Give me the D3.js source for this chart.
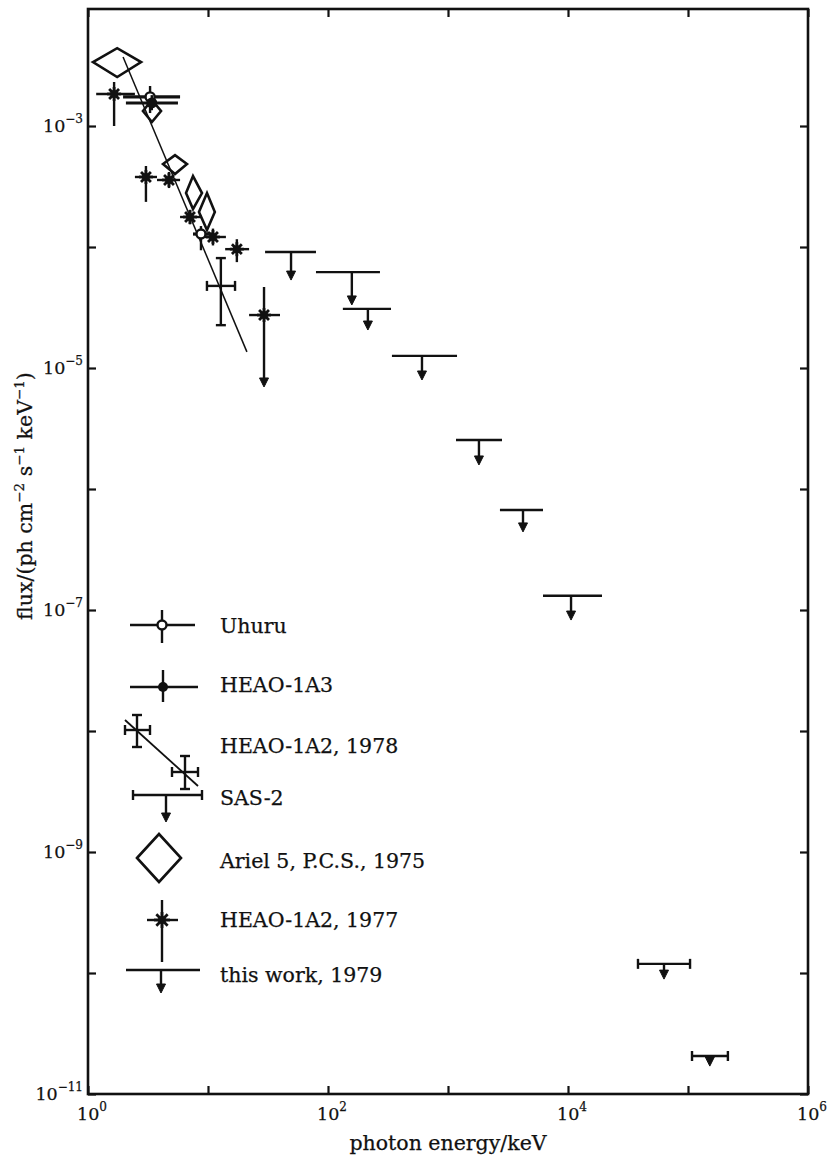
<!DOCTYPE html>
<html>
<head>
<meta charset="utf-8">
<script src="https://cdn.jsdelivr.net/npm/d3@7"></script>
<style>
  body { margin: 0; background: #fff; }
  text { font-family: "DejaVu Serif", serif; fill: #111; stroke: #111; stroke-width: 0.25px; }
</style>
</head>
<body>
<div id="chart"></div>
<script>
// axis decades
var xDecades = [1, 10, 100, 1e3, 1e4, 1e5, 1e6];
var xLabels  = [[1, "0"], [100, "2"], [1e4, "4"], [1e6, "6"]];
var yDecades = [1e-11, 1e-10, 1e-9, 1e-8, 1e-7, 1e-6, 1e-5, 1e-4, 1e-3];
var yLabels  = [[1e-3, "\u22123"], [1e-5, "\u22125"], [1e-7, "\u22127"], [1e-9, "\u22129"], [1e-11, "\u221211"]];

// Uhuru (open circle)
var uhuruE   = [3.29, 8.74];
var uhuruElo = [1.96, 7.5];
var uhuruEhi = [5.85, 10.8];
var uhuruF   = [1.74e-3, 1.28e-4];
var uhuruFlo = [1.28e-3, 9.4e-5];
var uhuruFhi = [2.14e-3, 1.49e-4];

// HEAO-1A3 (filled circle)
var a3E   = [3.4];
var a3Elo = [2.07];
var a3Ehi = [5.62];
var a3F   = [1.55e-3];
var a3Flo = [1.35e-3];
var a3Fhi = [1.8e-3];

// HEAO-1A2, 1978 (capped cross + power law)
var a78E   = [12.8];
var a78Elo = [9.8];
var a78Ehi = [16.8];
var a78F   = [4.77e-5];
var a78Flo = [2.26e-5];
var a78Fhi = [8.1e-5];
var fitE = [1.96, 21.1];
var fitF = [3.72e-3, 1.36e-5];

// Ariel 5, P.C.S., 1975 (diamonds)
var arielE   = [1.75, 3.41, 5.31, 7.5, 9.81];
var arielElo = [1.10, 2.87, 4.22, 6.56, 8.41];
var arielEhi = [2.77, 4.06, 6.68, 8.91, 11.4];
var arielF   = [3.38e-3, 1.33e-3, 4.85e-4, 2.79e-4, 1.95e-4];
var arielFlo = [2.54e-3, 1.08e-3, 4.01e-4, 2.06e-4, 1.38e-4];
var arielFhi = [4.4e-3, 1.64e-3, 5.75e-4, 3.86e-4, 2.79e-4];

// HEAO-1A2, 1977 (asterisks)
var a77E     = [1.65, 3.04, 4.73, 7.08, 11.0, 17.4, 29.3];
var a77Elo   = [1.17, 2.46, 3.76, 5.85, 9.44, 13.9, 22.0];
var a77Ehi   = [2.46, 3.76, 5.85, 8.91, 14.1, 22.0, 39.8];
var a77F     = [1.84e-3, 3.79e-4, 3.58e-4, 1.77e-4, 1.21e-4, 9.6e-5, 2.74e-5];
var a77Flo   = [1.0e-3, 2.36e-4, 3.07e-4, 1.54e-4, 1.03e-4, 7.5e-5, 6.97e-6];
var a77Fhi   = [2.31e-3, 4.67e-4, 4.17e-4, 2.03e-4, 1.42e-4, 1.16e-4, 4.67e-5];
var a77Limit = [false, false, false, false, false, false, true];

// SAS-2 (capped upper limits)
var sasElo   = [38300, 108000];
var sasEhi   = [104000, 215000];
var sasEarr  = [63100, 152000];
var sasF     = [1.19e-10, 2.06e-11];
var sasTip   = [8.9e-11, 1.7e-11];

// this work, 1979 (upper limits)
var workElo  = [29.9, 79.4, 133, 341, 1166, 2710, 6190];
var workEhi  = [79.4, 271, 335, 1189, 2818, 6190, 19200];
var workEarr = [49.2, 158, 215, 607, 1811, 4217, 10600];
var workF    = [9.1e-5, 6.2e-5, 3.08e-5, 1.26e-5, 2.54e-6, 6.7e-7, 1.31e-7];
var workTip  = [5.33e-5, 3.32e-5, 2.06e-5, 7.96e-6, 1.58e-6, 4.42e-7, 8.26e-8];

var legendNames = ["Uhuru", "HEAO-1A3", "HEAO-1A2, 1978", "SAS-2", "Ariel 5, P.C.S., 1975", "HEAO-1A2, 1977", "this work, 1979"];

// Style setting
var width = 829, height = 1162;
var ink = "#111";
var bar_w = 2.4;
var cap = 5;
var fs = 20.5;

var svg = d3.select("#chart").append("svg")
    .attr("width", width)
    .attr("height", height);

var x = d3.scaleLog().domain([1, 1e6]).range([88, 808]);
var y = d3.scaleLog().domain([1e-11, Math.pow(10, -2.033)]).range([1094, 9]);

// ticks on all four sides, pointing inward
function tickStyle(g) {
  g.select(".domain").remove();
  g.selectAll(".tick line").attr("stroke", ink).attr("stroke-width", 2.2);
}
svg.append("g").attr("transform", "translate(0,1094)")
   .call(d3.axisBottom(x).tickValues(xDecades).tickSize(-8).tickFormat("")).call(tickStyle);
svg.append("g").attr("transform", "translate(0,9)")
   .call(d3.axisTop(x).tickValues(xDecades).tickSize(-8).tickFormat("")).call(tickStyle);
svg.append("g").attr("transform", "translate(88,0)")
   .call(d3.axisLeft(y).tickValues(yDecades).tickSize(-8).tickFormat("")).call(tickStyle);
svg.append("g").attr("transform", "translate(808,0)")
   .call(d3.axisRight(y).tickValues(yDecades).tickSize(-8).tickFormat("")).call(tickStyle);

svg.append("rect")
   .attr("x", 88).attr("y", 9).attr("width", 720).attr("height", 1085)
   .attr("fill", "none").attr("stroke", ink).attr("stroke-width", 2.6);

// tick labels with superscripts
function powLabel(sel, exp) {
  sel.append("tspan").text("10");
  sel.append("tspan").attr("dy", -9).attr("font-size", 12).text(exp);
}
xLabels.forEach(function(d) {
  svg.append("text")
     .attr("x", x(d[0]) - 11).attr("y", 1120)
     .attr("font-size", 17.5)
     .call(powLabel, d[1]);
});
yLabels.forEach(function(d) {
  svg.append("text")
     .attr("x", 83).attr("y", y(d[0]) + 6)
     .attr("text-anchor", "end")
     .attr("font-size", 17.5)
     .call(powLabel, d[1]);
});

// axis titles
svg.append("text")
   .attr("x", 448).attr("y", 1150)
   .attr("text-anchor", "middle")
   .attr("font-size", fs)
   .text("photon energy/keV");

var yt = svg.append("text")
   .attr("transform", "translate(32,496) rotate(-90)")
   .attr("text-anchor", "middle")
   .attr("font-size", fs);
[["flux/(ph cm", 0], ["\u22122", 1], [" s", 0], ["\u22121", 1], [" keV", 0], ["\u22121", 1], [")", 0]].forEach(function(p, i, arr) {
  var t = yt.append("tspan").text(p[0]);
  if (p[1]) t.attr("dy", -8).attr("font-size", 13.5);
  else if (i > 0 && arr[i - 1][1]) t.attr("dy", 8);
});

var plot = svg.append("g").attr("stroke", ink).attr("stroke-linecap", "butt");

function hline(g, x1, x2, yy, w) {
  g.append("line").attr("x1", x1).attr("x2", x2).attr("y1", yy).attr("y2", yy).attr("stroke-width", w || bar_w);
}
function vline(g, xx, y1, y2, w) {
  g.append("line").attr("x1", xx).attr("x2", xx).attr("y1", y1).attr("y2", y2).attr("stroke-width", w || bar_w);
}
function arrowHead(g, xx, tip) {
  g.append("path")
   .attr("d", "M" + (xx - 4.5) + "," + (tip - 9) + "L" + (xx + 4.5) + "," + (tip - 9) + "L" + xx + "," + tip + "Z")
   .attr("fill", ink).attr("stroke-width", 1);
}
function asterisk(g, cx, cy, r) {
  [45, 135, 90, 0].forEach(function(a) {
    var dx = r * Math.cos(a * Math.PI / 180), dy = r * Math.sin(a * Math.PI / 180);
    g.append("line").attr("x1", cx - dx).attr("x2", cx + dx).attr("y1", cy - dy).attr("y2", cy + dy).attr("stroke-width", 2.8);
  });
  g.append("circle").attr("cx", cx).attr("cy", cy).attr("r", 4).attr("fill", ink).attr("stroke", "none");
}
function diamond(g, cx, cy, hw, hh) {
  g.append("path")
   .attr("d", "M" + (cx - hw) + "," + cy + "L" + cx + "," + (cy - hh) + "L" + (cx + hw) + "," + cy + "L" + cx + "," + (cy + hh) + "Z")
   .attr("fill", "none").attr("stroke-width", 2.6).attr("stroke-linejoin", "miter");
}
function capCross(g, cx, cy, x1, x2, y1, y2) {
  hline(g, x1, x2, cy);
  vline(g, cx, y1, y2);
  vline(g, x1, cy - cap, cy + cap);
  vline(g, x2, cy - cap, cy + cap);
  hline(g, cx - cap, cx + cap, y1);
  hline(g, cx - cap, cx + cap, y2);
}

// power law fit, HEAO-1A2 1978
plot.append("path")
    .datum(fitE.map(function(e, i) { return [e, fitF[i]]; }))
    .attr("d", d3.line().x(function(d) { return x(d[0]); }).y(function(d) { return y(d[1]); }))
    .attr("fill", "none").attr("stroke-width", 1.5);

// Ariel 5 diamonds
arielE.forEach(function(e, i) {
  var cx = x(e), cy = y(arielF[i]);
  plot.append("path")
      .attr("d", "M" + x(arielElo[i]) + "," + cy + "L" + cx + "," + y(arielFhi[i]) +
                 "L" + x(arielEhi[i]) + "," + cy + "L" + cx + "," + y(arielFlo[i]) + "Z")
      .attr("fill", "none").attr("stroke-width", 2.6);
});

// HEAO-1A2 1977 asterisks
a77E.forEach(function(e, i) {
  var cx = x(e), cy = y(a77F[i]);
  hline(plot, x(a77Elo[i]), x(a77Ehi[i]), cy);
  vline(plot, cx, y(a77Fhi[i]), y(a77Flo[i]) - (a77Limit[i] ? 2 : 0));
  if (a77Limit[i]) arrowHead(plot, cx, y(a77Flo[i]));
  asterisk(plot, cx, cy, 7);
});

// Uhuru
uhuruE.forEach(function(e, i) {
  var cx = x(e), cy = y(uhuruF[i]);
  hline(plot, x(uhuruElo[i]), x(uhuruEhi[i]), cy, 3.2);
  vline(plot, cx, y(uhuruFhi[i]), y(uhuruFlo[i]));
  plot.append("circle").attr("cx", cx).attr("cy", cy).attr("r", 4.5).attr("fill", "#fff").attr("stroke-width", 2.4);
});

// HEAO-1A3
a3E.forEach(function(e, i) {
  var cx = x(e), cy = y(a3F[i]);
  hline(plot, x(a3Elo[i]), x(a3Ehi[i]), cy, 3.2);
  vline(plot, cx, y(a3Fhi[i]), y(a3Flo[i]));
  plot.append("circle").attr("cx", cx).attr("cy", cy).attr("r", 5.5).attr("fill", ink).attr("stroke", "none");
});

// HEAO-1A2 1978 capped crosses
a78E.forEach(function(e, i) {
  capCross(plot, x(e), y(a78F[i]), x(a78Elo[i]), x(a78Ehi[i]), y(a78Fhi[i]), y(a78Flo[i]));
});

// this work upper limits
workF.forEach(function(f, i) {
  var yy = y(f);
  hline(plot, x(workElo[i]), x(workEhi[i]), yy);
  vline(plot, x(workEarr[i]), yy, y(workTip[i]) - 4);
  arrowHead(plot, x(workEarr[i]), y(workTip[i]));
});

// SAS-2 upper limits
sasF.forEach(function(f, i) {
  var yy = y(f);
  hline(plot, x(sasElo[i]), x(sasEhi[i]), yy);
  vline(plot, x(sasElo[i]), yy - cap, yy + cap);
  vline(plot, x(sasEhi[i]), yy - cap, yy + cap);
  vline(plot, x(sasEarr[i]), yy, y(sasTip[i]) - 4);
  arrowHead(plot, x(sasEarr[i]), y(sasTip[i]));
});

// legend
var lg = svg.append("g").attr("stroke", ink);
var textY = [633, 692, 753, 805, 868, 927, 982];
legendNames.forEach(function(n, i) {
  svg.append("text").attr("x", 220).attr("y", textY[i]).attr("font-size", fs).text(n);
});
// Uhuru
hline(lg, 130, 195, 625); vline(lg, 162, 610, 643);
lg.append("circle").attr("cx", 162).attr("cy", 625).attr("r", 4.5).attr("fill", "#fff").attr("stroke-width", 2.4);
// HEAO-1A3
hline(lg, 130, 198, 687); vline(lg, 163, 670, 702);
lg.append("circle").attr("cx", 163).attr("cy", 687).attr("r", 5).attr("fill", ink).attr("stroke", "none");
// HEAO-1A2 1978
lg.append("line").attr("x1", 125).attr("y1", 720).attr("x2", 198).attr("y2", 786).attr("stroke-width", 1.8);
capCross(lg, 137, 730, 125, 150, 715, 747);
capCross(lg, 185, 772, 172, 198, 756, 789);
// SAS-2
hline(lg, 133, 202, 795); vline(lg, 133, 790, 800); vline(lg, 202, 790, 800);
vline(lg, 166, 795, 816); arrowHead(lg, 166, 822);
// Ariel
diamond(lg, 159, 858, 22, 24);
// HEAO-1A2 1977
vline(lg, 162, 900, 962); hline(lg, 147, 178, 920);
asterisk(lg, 162, 920, 8);
// this work
hline(lg, 126, 200, 970); vline(lg, 161, 970, 988); arrowHead(lg, 161, 993);
</script>
</body>
</html>
